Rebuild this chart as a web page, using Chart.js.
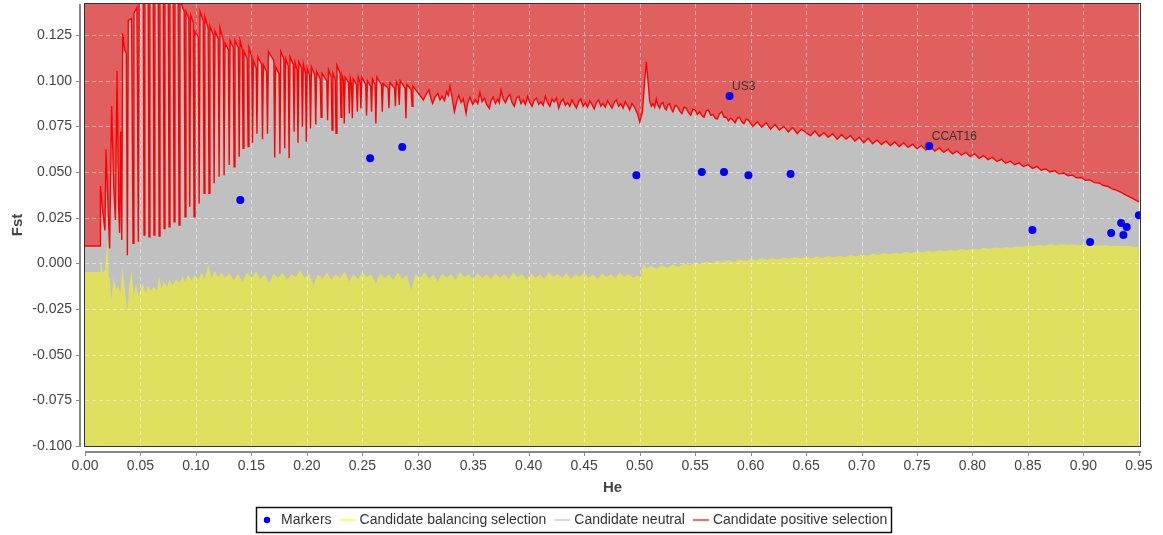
<!DOCTYPE html>
<html>
<head>
<meta charset="utf-8">
<script src="https://cdn.jsdelivr.net/npm/chart.js@4.4.1/dist/chart.umd.min.js"></script>
<style>
  html, body { margin: 0; padding: 0; background: #ffffff; }
  #wrap { width: 1163px; height: 535px; }
</style>
</head>
<body>
<div id="wrap"><canvas id="c" width="1163" height="535"></canvas></div>
<script>
// ---------------- DATA ----------------
const xTickLabels = ['0.00','0.05','0.10','0.15','0.20','0.25','0.30','0.35','0.40','0.45','0.50','0.55','0.60','0.65','0.70','0.75','0.80','0.85','0.90','0.95'];
const yTickLabels = ['-0.100','-0.075','-0.050','-0.025','0.000','0.025','0.050','0.075','0.100','0.125'];

const seriesLabels = ['Markers', 'Candidate balancing selection', 'Candidate neutral', 'Candidate positive selection'];

// Marker loci: He, Fst, name
const markerHe   = [0.140, 0.257, 0.286, 0.497, 0.556, 0.576, 0.598, 0.636, 0.581, 0.761, 0.854, 0.906, 0.925, 0.934, 0.939, 0.936, 0.950];
const markerFst  = [0.0347, 0.0576, 0.0637, 0.0483, 0.0500, 0.0500, 0.0483, 0.0489, 0.0916, 0.0642, 0.0182, 0.0117, 0.0166, 0.0221, 0.0199, 0.0155, 0.0264];
const markerName = ['', '', '', '', '', '', '', '', 'US3', 'CCAT16', '', '', '', '', '', '', ''];

// Upper confidence limit (candidate positive selection boundary): [He, Fst]
const positiveLine = [
[0.0000,0.0095],[0.0138,0.0095],[0.0139,0.0423],[0.0162,0.0274],[0.0180,0.0180],[0.0189,0.0624],[0.0210,0.0270],[0.0222,0.0082],[0.0240,0.0861],[0.0259,0.0420],[0.0274,0.0237],[0.0289,0.1054],[0.0303,0.0300],[0.0312,0.0166],[0.0322,0.0720],[0.0331,0.0128],[0.0340,0.1260],[0.0357,0.1168],[0.0372,0.1150],[0.0382,0.0045],[0.0390,0.1330],[0.0420,0.1340],[0.0433,0.0110],[0.0441,0.1370],[0.0468,0.1400],[0.0481,0.0118],[0.0489,0.1600],[0.0524,0.1580],[0.0532,0.0155],[0.0540,0.1600],[0.0569,0.1580],[0.0577,0.0146],[0.0585,0.1600],[0.0614,0.1580],[0.0622,0.0155],[0.0630,0.1600],[0.0660,0.1570],[0.0668,0.0150],[0.0676,0.1550],[0.0705,0.1530],[0.0713,0.0190],[0.0721,0.1550],[0.0750,0.1500],[0.0758,0.0200],[0.0766,0.1450],[0.0795,0.1420],[0.0803,0.0228],[0.0811,0.1440],[0.0840,0.1430],[0.0848,0.0210],[0.0856,0.1440],[0.0894,0.1380],[0.0902,0.0255],[0.0910,0.1380],[0.0936,0.1340],[0.0944,0.0310],[0.0952,0.1360],[0.0975,0.1320],[0.0983,0.0255],[0.0991,0.1270],[0.1021,0.1240],[0.1029,0.0328],[0.1037,0.1380],[0.1065,0.1330],[0.1073,0.0383],[0.1081,0.1350],[0.1110,0.1290],[0.1118,0.0383],[0.1126,0.1300],[0.1156,0.1250],[0.1164,0.0438],[0.1172,0.1270],[0.1201,0.1230],[0.1209,0.0474],[0.1217,0.1290],[0.1246,0.1220],[0.1254,0.0483],[0.1262,0.1206],[0.1292,0.1170],[0.1300,0.0538],[0.1308,0.1220],[0.1336,0.1180],[0.1344,0.0529],[0.1352,0.1220],[0.1382,0.1180],[0.1390,0.0584],[0.1398,0.1220],[0.1418,0.1170],[0.1425,0.0630],[0.1433,0.1160],[0.1462,0.1120],[0.1470,0.0640],[0.1478,0.1180],[0.1503,0.1130],[0.1510,0.0660],[0.1518,0.1110],[0.1543,0.1070],[0.1550,0.0710],[0.1558,0.1130],[0.1592,0.1090],[0.1600,0.0680],[0.1608,0.1086],[0.1637,0.1050],[0.1645,0.0710],[0.1653,0.1160],[0.1702,0.1110],[0.1710,0.0580],[0.1718,0.1076],[0.1749,0.1040],[0.1757,0.0600],[0.1765,0.1160],[0.1792,0.1120],[0.1800,0.0630],[0.1808,0.1120],[0.1832,0.1080],[0.1840,0.0576],[0.1848,0.1130],[0.1877,0.1090],[0.1885,0.0720],[0.1893,0.1100],[0.1912,0.1060],[0.1920,0.0660],[0.1928,0.1104],[0.1952,0.1070],[0.1960,0.0748],[0.1968,0.1090],[0.1987,0.1040],[0.1995,0.0666],[0.2003,0.1067],[0.2025,0.1030],[0.2033,0.0739],[0.2041,0.1076],[0.2072,0.1030],[0.2080,0.0760],[0.2088,0.1050],[0.2120,0.1010],[0.2128,0.0800],[0.2136,0.1040],[0.2179,0.1000],[0.2187,0.0784],[0.2195,0.1060],[0.2219,0.1020],[0.2227,0.0730],[0.2235,0.1040],[0.2255,0.1010],[0.2263,0.0712],[0.2271,0.1085],[0.2300,0.1040],[0.2308,0.0800],[0.2316,0.1030],[0.2330,0.1000],[0.2337,0.0766],[0.2345,0.1020],[0.2375,0.0990],[0.2383,0.0820],[0.2391,0.1013],[0.2402,0.0980],[0.2410,0.0794],[0.2418,0.1010],[0.2447,0.0980],[0.2455,0.0830],[0.2463,0.1020],[0.2479,0.0990],[0.2487,0.0848],[0.2495,0.1020],[0.2530,0.0980],[0.2538,0.0810],[0.2546,0.1000],[0.2575,0.0970],[0.2583,0.0830],[0.2591,0.1010],[0.2614,0.0980],[0.2622,0.0766],[0.2630,0.1020],[0.2672,0.0980],[0.2680,0.0830],[0.2688,0.0985],[0.2732,0.0960],[0.2740,0.0850],[0.2748,0.0990],[0.2790,0.0960],[0.2798,0.0860],[0.2806,0.0995],[0.2825,0.0970],[0.2833,0.0867],[0.2841,0.1000],[0.2885,0.0960],[0.2893,0.0794],[0.2901,0.0980],[0.2940,0.0950],[0.2948,0.0860],[0.2956,0.0970],
[0.3000,0.0935],[0.3025,0.0915],[0.3050,0.0895],[0.3075,0.0925],[0.3100,0.0950],[0.3120,0.0900],[0.3133,0.0876],[0.3155,0.0910],[0.3180,0.0930],[0.3200,0.0895],[0.3220,0.0915],[0.3240,0.0890],[0.3260,0.0940],[0.3275,0.0920],[0.3290,0.0970],[0.3310,0.0905],[0.3330,0.0830],[0.3350,0.0885],[0.3370,0.0920],[0.3390,0.0880],[0.3410,0.0900],[0.3435,0.0821],[0.3450,0.0880],[0.3470,0.0910],[0.3495,0.0870],[0.3520,0.0895],[0.3540,0.0875],[0.3560,0.0935],[0.3580,0.0885],[0.3600,0.0905],[0.3620,0.0870],[0.3645,0.0848],[0.3660,0.0890],[0.3680,0.0910],[0.3700,0.0875],[0.3720,0.0900],[0.3735,0.0880],[0.3750,0.0949],[0.3770,0.0900],[0.3790,0.0880],[0.3810,0.0910],[0.3830,0.0925],[0.3850,0.0880],[0.3870,0.0860],[0.3890,0.0905],[0.3910,0.0915],[0.3930,0.0875],[0.3950,0.0895],[0.3970,0.0870],[0.3990,0.0915],[0.4010,0.0880],[0.4030,0.0860],[0.4050,0.0895],[0.4070,0.0905],[0.4090,0.0870],[0.4110,0.0885],[0.4130,0.0865],[0.4150,0.0915],[0.4170,0.0880],[0.4190,0.0860],[0.4210,0.0900],[0.4230,0.0885],[0.4250,0.0905],[0.4270,0.0850],[0.4290,0.0885],[0.4310,0.0900],[0.4330,0.0865],[0.4350,0.0880],[0.4370,0.0860],[0.4390,0.0895],[0.4410,0.0870],[0.4430,0.0850],[0.4450,0.0885],[0.4470,0.0900],[0.4490,0.0860],[0.4510,0.0880],[0.4530,0.0855],[0.4550,0.0890],[0.4570,0.0870],[0.4590,0.0845],[0.4610,0.0880],[0.4630,0.0895],[0.4650,0.0860],[0.4670,0.0875],[0.4690,0.0855],[0.4710,0.0890],[0.4730,0.0870],[0.4750,0.0850],[0.4770,0.0880],[0.4790,0.0895],[0.4810,0.0860],[0.4830,0.0875],[0.4850,0.0850],[0.4870,0.0885],[0.4890,0.0865],[0.4910,0.0840],[0.4930,0.0875],[0.4950,0.0860],[0.4965,0.0840],[0.4980,0.0820],[0.5000,0.0775],[0.5025,0.0830],[0.5045,0.1000],[0.5060,0.1104],[0.5075,0.1000],[0.5090,0.0890],
[0.5105,0.0860],[0.5120,0.0875],[0.5135,0.0855],[0.5150,0.0900],[0.5165,0.0865],[0.5180,0.0850],[0.5195,0.0875],[0.5210,0.0880],[0.5225,0.0850],[0.5240,0.0840],[0.5255,0.0870],[0.5270,0.0875],[0.5285,0.0845],[0.5300,0.0830],[0.5320,0.0865],[0.5340,0.0860],[0.5360,0.0835],[0.5380,0.0820],[0.5400,0.0855],[0.5420,0.0850],[0.5440,0.0825],[0.5460,0.0810],[0.5480,0.0845],[0.5500,0.0840],[0.5520,0.0815],[0.5540,0.0830],[0.5560,0.0810],[0.5580,0.0800],[0.5600,0.0835],[0.5620,0.0840],[0.5640,0.0810],[0.5660,0.0815],[0.5680,0.0795],[0.5700,0.0790],[0.5720,0.0820],[0.5740,0.0830],[0.5760,0.0800],[0.5780,0.0800],[0.5800,0.0780],[0.5820,0.0795],[0.5840,0.0785],[0.5860,0.0770],[0.5880,0.0795],[0.5900,0.0800],[0.5920,0.0775],[0.5940,0.0765],[0.5960,0.0790],
[0.5980,0.0785],[0.6020,0.0750],[0.6060,0.0775],[0.6100,0.0745],[0.6140,0.0770],[0.6180,0.0735],[0.6220,0.0760],[0.6260,0.0730],[0.6300,0.0750],[0.6340,0.0720],[0.6380,0.0745],[0.6420,0.0710],[0.6460,0.0735],[0.6500,0.0715],[0.6540,0.0700],[0.6580,0.0725],[0.6620,0.0695],[0.6660,0.0715],[0.6700,0.0690],[0.6740,0.0710],[0.6780,0.0680],[0.6820,0.0705],[0.6860,0.0680],[0.6900,0.0700],[0.6940,0.0670],[0.6980,0.0690],[0.7020,0.0660],[0.7060,0.0685],[0.7100,0.0655],[0.7140,0.0675],[0.7180,0.0650],[0.7220,0.0670],[0.7260,0.0645],[0.7300,0.0665],[0.7340,0.0640],[0.7380,0.0660],[0.7420,0.0635],[0.7460,0.0652],[0.7500,0.0628],[0.7540,0.0645],[0.7580,0.0620],[0.7620,0.0640],[0.7660,0.0615],[0.7700,0.0632],[0.7740,0.0608],[0.7780,0.0625],[0.7820,0.0600],[0.7860,0.0615],[0.7900,0.0592],[0.7940,0.0608],[0.7980,0.0585],[0.8020,0.0600],[0.8060,0.0575],[0.8100,0.0590],[0.8140,0.0568],[0.8180,0.0580],[0.8220,0.0558],[0.8260,0.0570],[0.8300,0.0548],[0.8340,0.0560],[0.8380,0.0540],[0.8420,0.0550],[0.8460,0.0530],[0.8500,0.0540],[0.8540,0.0520],[0.8580,0.0530],[0.8620,0.0510],[0.8660,0.0518],[0.8700,0.0500],[0.8740,0.0508],[0.8780,0.0490],[0.8820,0.0495],[0.8860,0.0480],[0.8900,0.0483],[0.8940,0.0468],[0.8980,0.0470],[0.9020,0.0455],[0.9060,0.0457],[0.9100,0.0442],[0.9140,0.0440],[0.9180,0.0426],[0.9220,0.0422],[0.9260,0.0408],[0.9300,0.0400],[0.9340,0.0388],[0.9380,0.0375],[0.9420,0.0362],[0.9460,0.0350],[0.9500,0.0337]
];

// Lower confidence limit (candidate balancing selection boundary): [He, Fst]
const balancingLine = [
[0.0000,-0.0047],[0.0138,-0.0047],[0.0141,0.0036],[0.0160,-0.0050],[0.0180,-0.0040],[0.0201,0.0128],[0.0215,-0.0073],[0.0225,-0.0090],[0.0237,-0.0200],[0.0260,-0.0080],[0.0283,-0.0146],[0.0300,-0.0120],[0.0320,-0.0170],[0.0337,-0.0018],[0.0360,-0.0150],[0.0382,-0.0257],[0.0400,-0.0120],[0.0418,-0.0037],[0.0440,-0.0180],[0.0460,-0.0110],[0.0481,-0.0180],[0.0500,-0.0140],[0.0520,-0.0110],[0.0545,-0.0160],[0.0570,-0.0120],[0.0590,-0.0150],[0.0620,-0.0130],[0.0650,-0.0150],[0.0668,-0.0073],[0.0690,-0.0140],[0.0710,-0.0100],[0.0740,-0.0130],[0.0760,-0.0090],[0.0790,-0.0120],[0.0820,-0.0085],[0.0850,-0.0110],[0.0880,-0.0070],[0.0900,-0.0100],[0.0930,-0.0064],[0.0960,-0.0095],[0.0990,-0.0060],[0.1020,-0.0090],[0.1050,-0.0050],[0.1080,-0.0085],[0.1110,-0.0010],[0.1140,-0.0080],[0.1170,-0.0040],[0.1200,-0.0075],[0.1230,-0.0050],[0.1260,-0.0080],
[0.1300,-0.0055],[0.1340,-0.0090],[0.1380,-0.0060],[0.1420,-0.0100],[0.1460,-0.0050],[0.1500,-0.0080],[0.1540,-0.0045],[0.1580,-0.0085],[0.1620,-0.0060],[0.1660,-0.0110],[0.1700,-0.0055],[0.1740,-0.0080],[0.1780,-0.0050],[0.1820,-0.0090],[0.1860,-0.0060],[0.1900,-0.0075],[0.1940,-0.0040],[0.1980,-0.0080],[0.2020,-0.0055],[0.2060,-0.0120],[0.2100,-0.0060],[0.2140,-0.0085],[0.2180,-0.0050],[0.2220,-0.0090],[0.2260,-0.0060],[0.2300,-0.0080],[0.2340,-0.0045],[0.2380,-0.0100],[0.2420,-0.0060],[0.2460,-0.0085],[0.2500,-0.0050],[0.2540,-0.0075],[0.2580,-0.0060],[0.2620,-0.0110],[0.2660,-0.0055],[0.2700,-0.0080],[0.2740,-0.0060],[0.2780,-0.0090],[0.2820,-0.0050],[0.2860,-0.0085],[0.2900,-0.0065],[0.2940,-0.0146],[0.2980,-0.0060],[0.3020,-0.0080],[0.3060,-0.0050],[0.3100,-0.0085],[0.3140,-0.0060],[0.3180,-0.0100],[0.3220,-0.0055],[0.3260,-0.0080],[0.3300,-0.0060],[0.3340,-0.0090],[0.3380,-0.0050],[0.3420,-0.0075],[0.3460,-0.0060],[0.3500,-0.0090],[0.3540,-0.0055],[0.3580,-0.0080],[0.3620,-0.0060],[0.3660,-0.0085],[0.3700,-0.0055],[0.3740,-0.0080],[0.3780,-0.0060],[0.3820,-0.0085],[0.3860,-0.0050],[0.3900,-0.0075],[0.3940,-0.0060],[0.3980,-0.0090],[0.4020,-0.0055],[0.4060,-0.0080],[0.4100,-0.0060],[0.4140,-0.0085],[0.4180,-0.0050],[0.4220,-0.0075],[0.4260,-0.0060],[0.4300,-0.0080],[0.4340,-0.0055],[0.4380,-0.0085],[0.4420,-0.0060],[0.4460,-0.0075],[0.4500,-0.0050],[0.4540,-0.0080],[0.4580,-0.0060],[0.4620,-0.0085],[0.4660,-0.0055],[0.4700,-0.0075],[0.4740,-0.0060],[0.4780,-0.0080],[0.4820,-0.0050],[0.4860,-0.0075],[0.4900,-0.0060],[0.4940,-0.0080],[0.4980,-0.0065],[0.5010,-0.0075],
[0.5035,0.0000],[0.5060,-0.0030],[0.5100,-0.0015],[0.5150,-0.0030],[0.5200,-0.0010],[0.5250,-0.0025],[0.5300,-0.0005],[0.5350,-0.0020],[0.5400,0.0000],[0.5450,-0.0012],[0.5500,0.0008],[0.5550,-0.0005],[0.5600,0.0010],[0.5650,0.0000],[0.5700,0.0015],[0.5750,0.0005],[0.5800,0.0018],[0.5850,0.0008],[0.5900,0.0022],[0.5950,0.0012],[0.6000,0.0025],[0.6050,0.0015],[0.6100,0.0028],[0.6150,0.0018],[0.6200,0.0030],[0.6250,0.0020],[0.6300,0.0032],[0.6350,0.0024],[0.6400,0.0035],[0.6450,0.0026],[0.6500,0.0036],[0.6550,0.0028],[0.6600,0.0038],[0.6650,0.0030],[0.6700,0.0040],[0.6750,0.0032],[0.6800,0.0042],[0.6850,0.0034],[0.6900,0.0044],[0.6950,0.0038],[0.7000,0.0048],[0.7050,0.0042],[0.7100,0.0052],[0.7150,0.0046],[0.7200,0.0055],[0.7250,0.0050],[0.7300,0.0058],[0.7350,0.0053],[0.7400,0.0062],[0.7450,0.0056],[0.7500,0.0066],[0.7550,0.0060],[0.7600,0.0068],[0.7650,0.0063],[0.7700,0.0071],[0.7750,0.0066],[0.7800,0.0074],[0.7850,0.0069],[0.7900,0.0077],[0.7950,0.0072],[0.8000,0.0080],[0.8050,0.0075],[0.8100,0.0084],[0.8150,0.0079],[0.8200,0.0087],[0.8250,0.0082],[0.8300,0.0090],[0.8350,0.0086],[0.8400,0.0094],[0.8450,0.0089],[0.8500,0.0098],[0.8550,0.0093],[0.8600,0.0101],[0.8650,0.0096],[0.8700,0.0104],[0.8750,0.0099],[0.8800,0.0104],[0.8850,0.0100],[0.8900,0.0103],[0.8950,0.0099],[0.9000,0.0102],[0.9050,0.0098],[0.9100,0.0101],[0.9150,0.0097],[0.9200,0.0099],[0.9250,0.0095],[0.9300,0.0097],[0.9350,0.0093],[0.9400,0.0095],[0.9450,0.0091],[0.9500,0.0090]
];

// ---------------- STYLE ----------------
const FONT = '"Liberation Sans", Arial, Helvetica, sans-serif';
const RED_FILL = '#e06060';
const GRAY_FILL = '#c0c0c0';
const YELLOW_FILL = '#e0e060';
const legendStyle = [
  {kind: 'dot',  color: '#0000ff'},
  {kind: 'line', color: '#ffff00'},
  {kind: 'line', color: '#c0c0c0'},
  {kind: 'line', color: '#ff0000'}
];

Chart.defaults.font.family = FONT;
Chart.defaults.color = '#444444';

const toXY = arr => arr.map(p => ({x: p[0], y: p[1]}));

const jfPlugin = {
  id: 'jfPlugin',
  beforeDatasetsDraw(chart) {
    const {ctx, chartArea: a, scales: {x, y}} = chart;
    ctx.save();
    ctx.beginPath();
    ctx.rect(a.left, a.top, a.right - a.left, a.bottom - a.top);
    ctx.clip();
    ctx.strokeStyle = 'rgba(255,255,255,0.45)';
    ctx.lineWidth = 1;
    ctx.setLineDash([4, 3]);
    x.ticks.forEach(t => {
      const px = Math.round(x.getPixelForValue(t.value)) + 0.5;
      if (px <= a.left + 1 || px >= a.right - 1) return;
      ctx.beginPath(); ctx.moveTo(px, a.top); ctx.lineTo(px, a.bottom); ctx.stroke();
    });
    y.ticks.forEach(t => {
      const py = Math.round(y.getPixelForValue(t.value)) + 0.5;
      if (py <= a.top + 1 || py >= a.bottom - 1) return;
      ctx.beginPath(); ctx.moveTo(a.left, py); ctx.lineTo(a.right, py); ctx.stroke();
    });
    ctx.restore();
  },
  afterDatasetsDraw(chart) {
    const {ctx, chartArea: a, scales: {x, y}} = chart;
    ctx.save();
    // marker names
    ctx.font = '12px ' + FONT;
    ctx.fillStyle = '#333333';
    ctx.textAlign = 'left';
    ctx.textBaseline = 'alphabetic';
    markerName.forEach((n, i) => {
      if (!n) return;
      const px = x.getPixelForValue(markerHe[i]);
      const py = y.getPixelForValue(markerFst[i]);
      ctx.fillText(n, px + 2.5, py - 6.5);
    });
    // plot outline
    ctx.strokeStyle = '#333333';
    ctx.lineWidth = 1;
    ctx.strokeRect(Math.round(a.left) - 0.5, Math.round(a.top) - 0.5, Math.round(a.right - a.left) + 1, Math.round(a.bottom - a.top) + 1);
    // axis lines offset from plot
    ctx.strokeStyle = '#888888';
    ctx.lineWidth = 2;
    ctx.beginPath();
    ctx.moveTo(a.left - 5, a.top); ctx.lineTo(a.left - 5, a.bottom + 1);
    ctx.moveTo(a.left, a.bottom + 6); ctx.lineTo(a.right + 1, a.bottom + 6);
    ctx.stroke();
    ctx.lineWidth = 1;
    y.ticks.forEach(t => {
      const py = Math.round(y.getPixelForValue(t.value)) + 0.5;
      ctx.beginPath(); ctx.moveTo(a.left - 9, py); ctx.lineTo(a.left - 6, py); ctx.stroke();
    });
    x.ticks.forEach(t => {
      const px = Math.round(x.getPixelForValue(t.value)) + 0.5;
      ctx.beginPath(); ctx.moveTo(px, a.bottom + 7); ctx.lineTo(px, a.bottom + 10); ctx.stroke();
    });
    ctx.restore();
  },
  afterDraw(chart) {
    const ctx = chart.ctx;
    ctx.save();
    ctx.font = '14px ' + FONT;
    const ds = chart.data.datasets;
    const widths = ds.map(d => ctx.measureText(d.label).width);
    let total = 7 + 4;
    ds.forEach((d, i) => {
      total += (legendStyle[i].kind === 'dot' ? 14 : 20) + widths[i] + (i < ds.length - 1 ? 8 : 4);
    });
    const cx = 574;
    const left = Math.round(cx - total / 2);
    const top = 507, h = 25, mid = top + h / 2 + 0.5;
    ctx.strokeStyle = '#111111';
    ctx.lineWidth = 1.5;
    ctx.strokeRect(left + 0.5, top + 0.5, Math.round(total), h);
    let cur = left + 7;
    ctx.textBaseline = 'middle';
    ctx.textAlign = 'left';
    ds.forEach((d, i) => {
      const st = legendStyle[i];
      if (st.kind === 'dot') {
        ctx.fillStyle = st.color;
        ctx.beginPath(); ctx.arc(cur + 4, mid, 3.2, 0, Math.PI * 2); ctx.fill();
        cur += 4 + 14;
      } else {
        ctx.strokeStyle = st.color;
        ctx.lineWidth = 1.2;
        ctx.beginPath(); ctx.moveTo(cur, mid); ctx.lineTo(cur + 16, mid); ctx.stroke();
        cur += 20;
      }
      ctx.fillStyle = '#333333';
      ctx.fillText(d.label, cur, mid);
      cur += widths[i] + 8;
    });
    ctx.restore();
  }
};

new Chart(document.getElementById('c'), {
  type: 'line',
  data: {
    datasets: [
      {
        label: seriesLabels[0],
        data: markerHe.map((v, i) => ({x: v, y: markerFst[i]})),
        showLine: false,
        pointRadius: 4,
        pointHoverRadius: 4,
        pointBackgroundColor: '#0000ff',
        pointBorderWidth: 0,
        borderColor: '#0000ff',
        backgroundColor: '#0000ff'
      },
      {
        label: seriesLabels[1],
        data: toXY(balancingLine),
        borderColor: 'rgba(0,0,0,0)',
        borderWidth: 1,
        backgroundColor: YELLOW_FILL,
        fill: 'start',
        pointRadius: 0
      },
      {
        label: seriesLabels[2],
        data: toXY(positiveLine),
        borderColor: 'rgba(0,0,0,0)',
        borderWidth: 1,
        backgroundColor: GRAY_FILL,
        fill: 'start',
        pointRadius: 0
      },
      {
        label: seriesLabels[3],
        data: toXY(positiveLine),
        borderColor: '#ff0000',
        borderWidth: 1.4,
        backgroundColor: RED_FILL,
        fill: 'end',
        pointRadius: 0
      }
    ]
  },
  options: {
    responsive: false,
    animation: false,
    devicePixelRatio: 1,
    layout: { padding: { top: 4, right: 23, left: 0, bottom: 0 } },
    plugins: {
      legend: { display: false },
      tooltip: { enabled: false },
      filler: { drawTime: 'beforeDatasetsDraw', propagate: false }
    },
    scales: {
      x: {
        type: 'linear',
        min: 0,
        max: 0.951,
        grid: { display: false },
        border: { display: false },
        ticks: {
          stepSize: 0.05,
          includeBounds: false,
          autoSkip: false,
          maxRotation: 0,
          padding: 4,
          color: '#444444',
          font: { size: 14 },
          callback: (v) => { const i = Math.round(v / 0.05); return xTickLabels[i] !== undefined ? xTickLabels[i] : ''; }
        },
        title: { display: true, text: 'He', color: '#444444', font: { size: 15, weight: 'bold' }, padding: { top: 0, bottom: 38 } },
        afterFit: (s) => { s.height = 89; s.paddingLeft = 0; s.paddingRight = 0; }
      },
      y: {
        type: 'linear',
        min: -0.1,
        max: 0.142,
        grid: { display: false },
        border: { display: false },
        ticks: {
          stepSize: 0.025,
          includeBounds: false,
          autoSkip: false,
          padding: 5,
          color: '#444444',
          font: { size: 14 },
          callback: (v) => { const i = Math.round((v + 0.1) / 0.025); return yTickLabels[i] !== undefined ? yTickLabels[i] : ''; }
        },
        title: { display: true, text: 'Fst', color: '#444444', font: { size: 15, weight: 'bold' }, padding: { top: 9, bottom: 0 } },
        afterFit: (s) => { s.width = 85; s.paddingTop = 0; s.paddingBottom = 0; }
      }
    }
  },
  plugins: [jfPlugin]
});
</script>
</body>
</html>
